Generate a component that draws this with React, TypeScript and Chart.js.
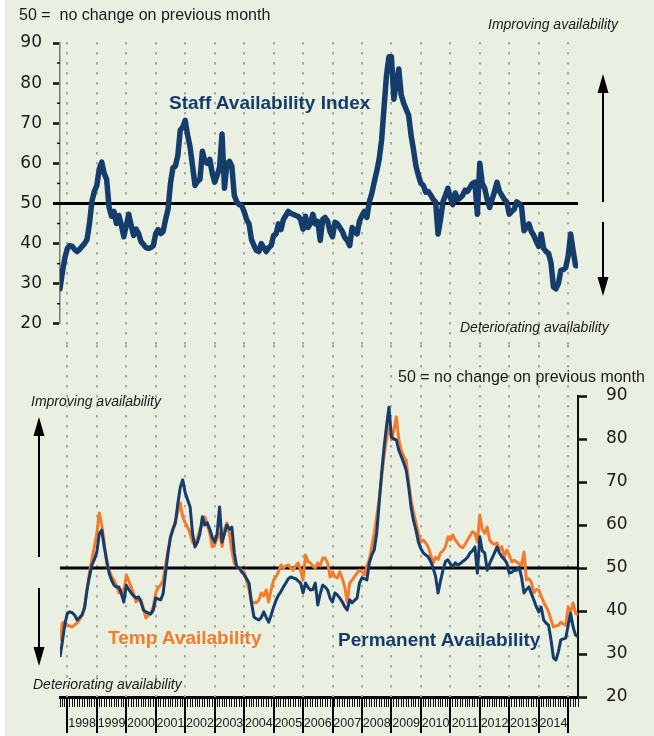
import React, { useEffect, useRef } from 'react';
import { Chart, registerables } from 'chart.js';

Chart.register(...registerables);

// Months run from Oct 1997 (index 0) to May 2015 (index 211)
const yearLabels = ['1998', '1999', '2000', '2001', '2002', '2003', '2004', '2005', '2006', '2007', '2008', '2009', '2010', '2011', '2012', '2013', '2014'];
const yTickValues = [20, 30, 40, 50, 60, 70, 80, 90];

const staffIndex = [
  28.7, 33, 36.5, 38.8, 39.5, 39.3, 38.5, 38, 38.6, 39.3,
  40, 41, 45, 50.5, 53, 54.5, 58.6, 60.3, 57.5, 56,
  49, 46.8, 48, 45, 47, 44.5, 41.7, 44.5, 47.3, 44.5,
  42, 43.6, 42.5, 40.5, 39.8, 39, 38.8, 39, 39.5, 42.5,
  43.5, 42.5, 43, 46, 48.5, 55, 58.9, 59.3, 62, 68.3,
  69, 70.7, 67, 64, 59.3, 54.5, 55.5, 56, 63, 60.5,
  60, 61, 57.6, 55.3, 57, 59, 67.3, 53.8, 60, 60.5,
  59.3, 52, 50.4, 49.7, 49.5, 48, 46, 44.9, 41, 39.5,
  38.3, 38, 40, 39, 38, 39, 39.5, 42, 42.4, 44.9,
  43.5, 46, 47, 48, 47.5, 47.3, 47, 46.8, 46, 43.6,
  46.8, 44, 45, 47.3, 44.9, 45.5, 40.8, 46, 46.5, 45.6,
  43, 41.7, 45.3, 44.9, 44, 43, 41.5, 40.8, 39.5, 44,
  43, 42.4, 45.6, 47, 48, 46.5, 50.4, 52.5, 55.3, 58,
  61, 65.8, 74, 82, 86.6, 86.6, 76, 80, 83.5, 77,
  75, 73.5, 72, 67, 63.4, 59.3, 57, 55, 54.5, 52.8,
  53, 52.1, 51, 50.4, 42.4, 46, 50.4, 52, 53.8, 51.5,
  49.7, 52.6, 51, 51.4, 52, 53.3, 53, 54, 55, 55.3,
  47.3, 60, 55, 53.8, 51, 49, 51, 53, 55.3, 53,
  52, 51, 50.4, 47.3, 48, 48.5, 50.4, 50, 49.2, 43.2,
  44, 44.9, 43, 42, 40.5, 39.3, 42.4, 38.8, 38, 37.6,
  35.2, 29.2, 28.7, 30, 33.3, 33.5, 34, 36.9, 42.4, 38.3,
  34.5, 34.5,
];

const permanent = [
  29.3, 33, 37, 39.5, 39.8, 39.6, 39, 37.9, 38.5, 39.1,
  40.7, 44.9, 48, 50.7, 52, 53.7, 58, 58.8, 55, 51.9,
  48.8, 47.2, 46, 45.6, 45.6, 44, 42.1, 46, 45, 44.2,
  43.5, 43, 43.3, 42, 40.2, 39.8, 39.5, 39.3, 40.2, 43,
  42.8, 42.6, 44, 48.8, 53.5, 57.2, 59, 60.5, 65, 68.8,
  70.5, 67.5, 65.8, 64.2, 58, 54.9, 56, 58, 61.9, 60,
  60.5, 59, 57.2, 56, 58, 64.2, 56, 58, 60, 59,
  59.5, 53.5, 50.2, 50, 49.1, 48.5, 47.5, 46.5, 41.9, 38.6,
  38.2, 37.9, 38.5, 39.8, 38.5, 37.4, 39, 40.9, 42.5, 43.7,
  44.5, 45.6, 46.5, 47.5, 47.9, 47.7, 47.5, 47, 46.5, 44.2,
  46.5, 45.5, 44.9, 45, 46.5, 41.4, 44, 46, 45.6, 44.9,
  43, 42.1, 44.2, 43.7, 43, 42.1, 41, 40.2, 42.6, 41.9,
  42.5, 43, 46.5, 47.7, 47.5, 47.2, 51.2, 53, 54.2, 58,
  65, 72, 78, 83, 87.4, 80.5, 80, 79.8, 77.4, 76,
  74.5, 72.8, 69, 64.2, 61, 58.8, 56, 54.5, 53.5, 53,
  52.6, 51.5, 50, 48, 44.2, 47, 49.5, 51.5, 51.9, 51,
  50.2, 51.2, 50.7, 51, 51.5, 51.9, 52.5, 53.5, 54, 54.9,
  48.8, 57.2, 54, 53.5, 49.5, 51, 52.3, 53.5, 54.9, 53.5,
  52.6, 52, 51.2, 48.8, 49, 49.5, 49.5, 50.2, 47.9, 44.2,
  45, 45.6, 44, 42.6, 41, 39.8, 40.9, 37.9, 37.2, 36.7,
  33.3, 29.1, 28.6, 30.5, 33.3, 33.5, 33.7, 36.7, 39.5, 36.3,
  34.4, 34,
];

const temp = [
  33, 37.2, 37.5, 36.7, 36.5, 36.3, 36.8, 37.2, 38, 39,
  41, 45, 49, 52, 55, 58, 62.8, 60, 56, 51,
  49.5, 48, 47.2, 46, 44.2, 45, 44.2, 48.4, 47, 45.6,
  44, 42.1, 43, 42.6, 40.5, 38.4, 39, 39.5, 41, 44.2,
  45.5, 46, 47.2, 50.7, 54, 57, 59, 61, 63, 65.1,
  61.9, 60.5, 59.5, 58, 56, 55.3, 57, 59, 60, 61.9,
  60, 58.1, 54.9, 55.5, 57, 58.1, 55, 59, 60.5, 58,
  54, 51, 50.5, 50, 49.5, 49.1, 47, 44.9, 41.9, 42,
  41.9, 42.5, 44.2, 43.5, 44.9, 42.1, 45, 47.2, 48, 49.1,
  50.7, 50, 50.5, 50.7, 50, 49.5, 50.5, 51.2, 49.5, 47.2,
  53, 51.5, 51.2, 50.5, 50, 51.2, 50.5, 52.3, 52.3, 51.2,
  47.9, 49.1, 48, 47.7, 49.1, 47.5, 45.6, 42.1, 46.5, 47.2,
  48, 48.8, 49.5, 49.1, 48.4, 50.5, 51.9, 55, 58, 62,
  66, 71, 76, 80, 83.7, 79.8, 82, 85.1, 80, 77.4,
  76, 75.1, 70, 65.8, 63, 60.5, 58, 56, 56.5, 55.8,
  54.9, 53, 51.2, 52.5, 52, 53.5, 54, 54.9, 57.2, 56.5,
  57.7, 56.5, 55.8, 55, 54.7, 55.5, 56.5, 57.5, 58.4, 58.1,
  56, 62.3, 59, 58.1, 59.5, 56.5, 55.8, 55.5, 55.8, 54.2,
  55, 52.6, 54.2, 53, 51.4, 51.8, 51.4, 51, 50.7, 53.7,
  47.2, 47.5, 46.7, 44.2, 45, 44.9, 43.5, 42.1, 41, 39.8,
  38, 36.3, 36.5, 36.7, 37.4, 37, 36.7, 40.9, 39.8, 41.9,
  39.5, 39.1,
];

const FIRST_JAN_INDEX = 3; // Jan 1998
const BLUE = '#143d6b';
const ORANGE = '#f47a2c';
const BG = '#eaf0e1';
const TEXT = '#1a1a1a';
const LAST_INDEX = staffIndex.length - 1;

const yearStartIdx = Array.from({ length: yearLabels.length + 1 }, (_, k) => FIRST_JAN_INDEX + 12 * k);
const labelAt: Record<number, string> = {};
yearLabels.forEach((y, k) => { labelAt[FIRST_JAN_INDEX + 12 * k + 6] = y; });

const toXY = (arr: number[]) => arr.map((v, i) => ({ x: i, y: v }));

function drawArrow(ctx: CanvasRenderingContext2D, x: number, from: number, tip: number) {
  const dir = tip < from ? -1 : 1;
  const headLen = 19;
  ctx.save();
  ctx.strokeStyle = '#000';
  ctx.fillStyle = '#000';
  ctx.lineWidth = 2;
  ctx.beginPath();
  ctx.moveTo(x, from);
  ctx.lineTo(x, tip - dir * headLen);
  ctx.stroke();
  ctx.beginPath();
  ctx.moveTo(x, tip);
  ctx.lineTo(x - 5.5, tip - dir * headLen);
  ctx.lineTo(x + 5.5, tip - dir * headLen);
  ctx.closePath();
  ctx.fill();
  ctx.restore();
}

function drawYearDots(chart: any, y0: number, y1: number) {
  const ctx = chart.ctx;
  const xs = chart.scales.x;
  ctx.save();
  ctx.strokeStyle = '#a5a7a2';
  ctx.lineWidth = 2;
  ctx.setLineDash([2.5, 7.5]);
  yearStartIdx.forEach((idx) => {
    const px = Math.round(xs.getPixelForValue(idx));
    ctx.beginPath();
    ctx.moveTo(px, y0);
    ctx.lineTo(px, y1);
    ctx.stroke();
  });
  ctx.restore();
}

function drawFifty(chart: any, yKey: string, xStart: number) {
  const ctx = chart.ctx;
  const ys = chart.scales[yKey];
  const py = ys.getPixelForValue(50);
  ctx.save();
  ctx.strokeStyle = '#000';
  ctx.lineWidth = 3;
  ctx.beginPath();
  ctx.moveTo(xStart, py);
  ctx.lineTo(chart.chartArea.right, py);
  ctx.stroke();
  ctx.restore();
}

const topPlugin = {
  id: 'topDecor',
  beforeDatasetsDraw(chart: any) {
    drawYearDots(chart, 42, chart.height);
    drawFifty(chart, 'y', chart.chartArea.left - 7);
    const ctx = chart.ctx;
    const ys = chart.scales.y;
    ctx.save();
    ctx.strokeStyle = '#111';
    ctx.lineWidth = 1.5;
    [25, 35, 45, 55, 65, 75, 85].forEach((v) => {
      const py = ys.getPixelForValue(v);
      ctx.beginPath();
      ctx.moveTo(chart.chartArea.left - 3, py);
      ctx.lineTo(chart.chartArea.left, py);
      ctx.stroke();
    });
    ctx.restore();
  },
  afterDraw(chart: any) {
    drawArrow(chart.ctx, 603, 202, 74);
    drawArrow(chart.ctx, 603, 222, 296);
  },
};

const BOTTOM_TOP = 345;

const bottomPlugin = {
  id: 'bottomDecor',
  beforeDatasetsDraw(chart: any) {
    drawYearDots(chart, 0, chart.chartArea.bottom);
    drawFifty(chart, 'y', chart.chartArea.left);
  },
  afterDraw(chart: any) {
    const ctx = chart.ctx;
    const xs = chart.scales.x;
    ctx.save();
    ctx.strokeStyle = '#000';
    ctx.lineWidth = 2;
    yearStartIdx.forEach((idx) => {
      const px = Math.round(xs.getPixelForValue(idx));
      ctx.beginPath();
      ctx.moveTo(px, chart.chartArea.bottom);
      ctx.lineTo(px, 733 - BOTTOM_TOP);
      ctx.stroke();
    });
    ctx.restore();
    drawArrow(ctx, 39, 557 - BOTTOM_TOP, 417 - BOTTOM_TOP);
    drawArrow(ctx, 39, 588 - BOTTOM_TOP, 666 - BOTTOM_TOP);
  },
};

const numFont = { family: "'DejaVu Sans', sans-serif", size: 17 };

function TopChart() {
  const ref = useRef<HTMLCanvasElement>(null);
  useEffect(() => {
    const chart = new Chart(ref.current as HTMLCanvasElement, {
      type: 'line',
      data: {
        datasets: [{
          label: 'Staff Availability Index',
          data: toXY(staffIndex),
          borderColor: BLUE,
          borderWidth: 5.5,
          borderJoinStyle: 'round',
          borderCapStyle: 'round',
          pointRadius: 0,
          tension: 0,
        }],
      },
      options: {
        animation: false,
        responsive: false,
        maintainAspectRatio: false,
        layout: { padding: { left: 0, right: 654 - 578, top: 43, bottom: 12 } },
        plugins: { legend: { display: false }, tooltip: { enabled: false } },
        scales: {
          x: { type: 'linear', min: 0, max: LAST_INDEX, display: false },
          y: {
            position: 'left', min: 20, max: 90,
            afterFit: (s: any) => { s.width = 60; },
            afterBuildTicks: (s: any) => { s.ticks = yTickValues.map((v) => ({ value: v })); },
            ticks: { font: numFont, color: TEXT, padding: 11 },
            grid: { drawOnChartArea: false, tickLength: 7, tickWidth: 2.5, tickColor: '#111' },
            border: { display: true, color: '#7a7a7a', width: 1.5 },
          },
        },
      } as any,
      plugins: [topPlugin],
    });
    return () => chart.destroy();
  }, []);
  return <canvas ref={ref} width={654} height={BOTTOM_TOP} style={{ position: 'absolute', left: 0, top: 0 }} />;
}

function BottomChart() {
  const ref = useRef<HTMLCanvasElement>(null);
  useEffect(() => {
    const chart = new Chart(ref.current as HTMLCanvasElement, {
      type: 'line',
      data: {
        datasets: [
          {
            label: 'Permanent Availability',
            data: toXY(permanent),
            borderColor: BLUE,
            borderWidth: 3,
            borderJoinStyle: 'round',
            pointRadius: 0,
            tension: 0,
            order: 0,
          },
          {
            label: 'Temp Availability',
            data: toXY(temp),
            borderColor: ORANGE,
            borderWidth: 3,
            borderJoinStyle: 'round',
            pointRadius: 0,
            tension: 0,
            order: 1,
          },
        ],
      },
      options: {
        animation: false,
        responsive: false,
        maintainAspectRatio: false,
        layout: { padding: { left: 60, right: 0, top: 396 - BOTTOM_TOP, bottom: 0 } },
        plugins: { legend: { display: false }, tooltip: { enabled: false } },
        scales: {
          x: {
            type: 'linear', min: 0, max: LAST_INDEX, position: 'bottom',
            afterFit: (s: any) => { s.height = 736 - 697; },
            afterBuildTicks: (s: any) => { s.ticks = staffIndex.map((_, i) => ({ value: i })); },
            ticks: {
              autoSkip: false, maxRotation: 0, minRotation: 0, padding: 9,
              font: { family: "'Liberation Sans', Arial, sans-serif", size: 12.5 },
              color: TEXT,
              callback: (v: any) => labelAt[v] ?? '',
            },
            grid: { drawOnChartArea: false, tickLength: 10, tickWidth: 1, tickColor: '#111' },
            border: { display: true, color: '#000', width: 3 },
          },
          y: {
            position: 'right', min: 20, max: 90,
            afterFit: (s: any) => { s.width = 654 - 578; },
            afterBuildTicks: (s: any) => { s.ticks = yTickValues.map((v) => ({ value: v })); },
            ticks: { font: numFont, color: TEXT, padding: 19 },
            grid: { drawOnChartArea: false, tickLength: 9, tickWidth: 2.5, tickColor: '#111' },
            border: { display: true, color: '#111', width: 2 },
          },
        },
      } as any,
      plugins: [bottomPlugin],
    });
    return () => chart.destroy();
  }, []);
  return <canvas ref={ref} width={654} height={736 - BOTTOM_TOP} style={{ position: 'absolute', left: 0, top: BOTTOM_TOP }} />;
}

function Label(props: { x: number; cy: number; size: number; text: string; style?: React.CSSProperties }) {
  const { x, cy, size, text, style } = props;
  return (
    <div
      style={{
        position: 'absolute', left: x, top: cy - size * 0.62, fontSize: size,
        lineHeight: `${size * 1.2}px`, whiteSpace: 'pre', color: TEXT,
        fontFamily: "'Liberation Sans', Arial, sans-serif", ...style,
      }}
    >
      {text}
    </div>
  );
}

export default function App() {
  const italic: React.CSSProperties = { fontStyle: 'italic' };
  const boldBlue: React.CSSProperties = { fontWeight: 'bold', color: BLUE };
  const boldOrange: React.CSSProperties = { fontWeight: 'bold', color: ORANGE };
  return (
    <div style={{ position: 'absolute', left: 0, top: 0, width: 654, height: 736, background: '#ffffff', overflow: 'hidden' }}>
      <div style={{ position: 'absolute', left: 5, top: 0, width: 649, height: 736, background: BG }} />
      <TopChart />
      <BottomChart />
      <Label x={19} cy={15} size={16} text={'50 =  no change on previous month'} />
      <Label x={488} cy={25} size={14} text={'Improving availability'} style={italic} />
      <Label x={169} cy={104} size={19} text={'Staff Availability Index'} style={boldBlue} />
      <Label x={460} cy={328} size={14} text={'Deteriorating availability'} style={italic} />
      <Label x={398} cy={377} size={16} text={'50 = no change on previous month'} />
      <Label x={31} cy={402} size={14} text={'Improving availability'} style={italic} />
      <Label x={108} cy={639} size={19} text={'Temp Availability'} style={boldOrange} />
      <Label x={338} cy={641} size={19} text={'Permanent Availability'} style={boldBlue} />
      <Label x={33} cy={685} size={14} text={'Deteriorating availability'} style={italic} />
    </div>
  );
}
